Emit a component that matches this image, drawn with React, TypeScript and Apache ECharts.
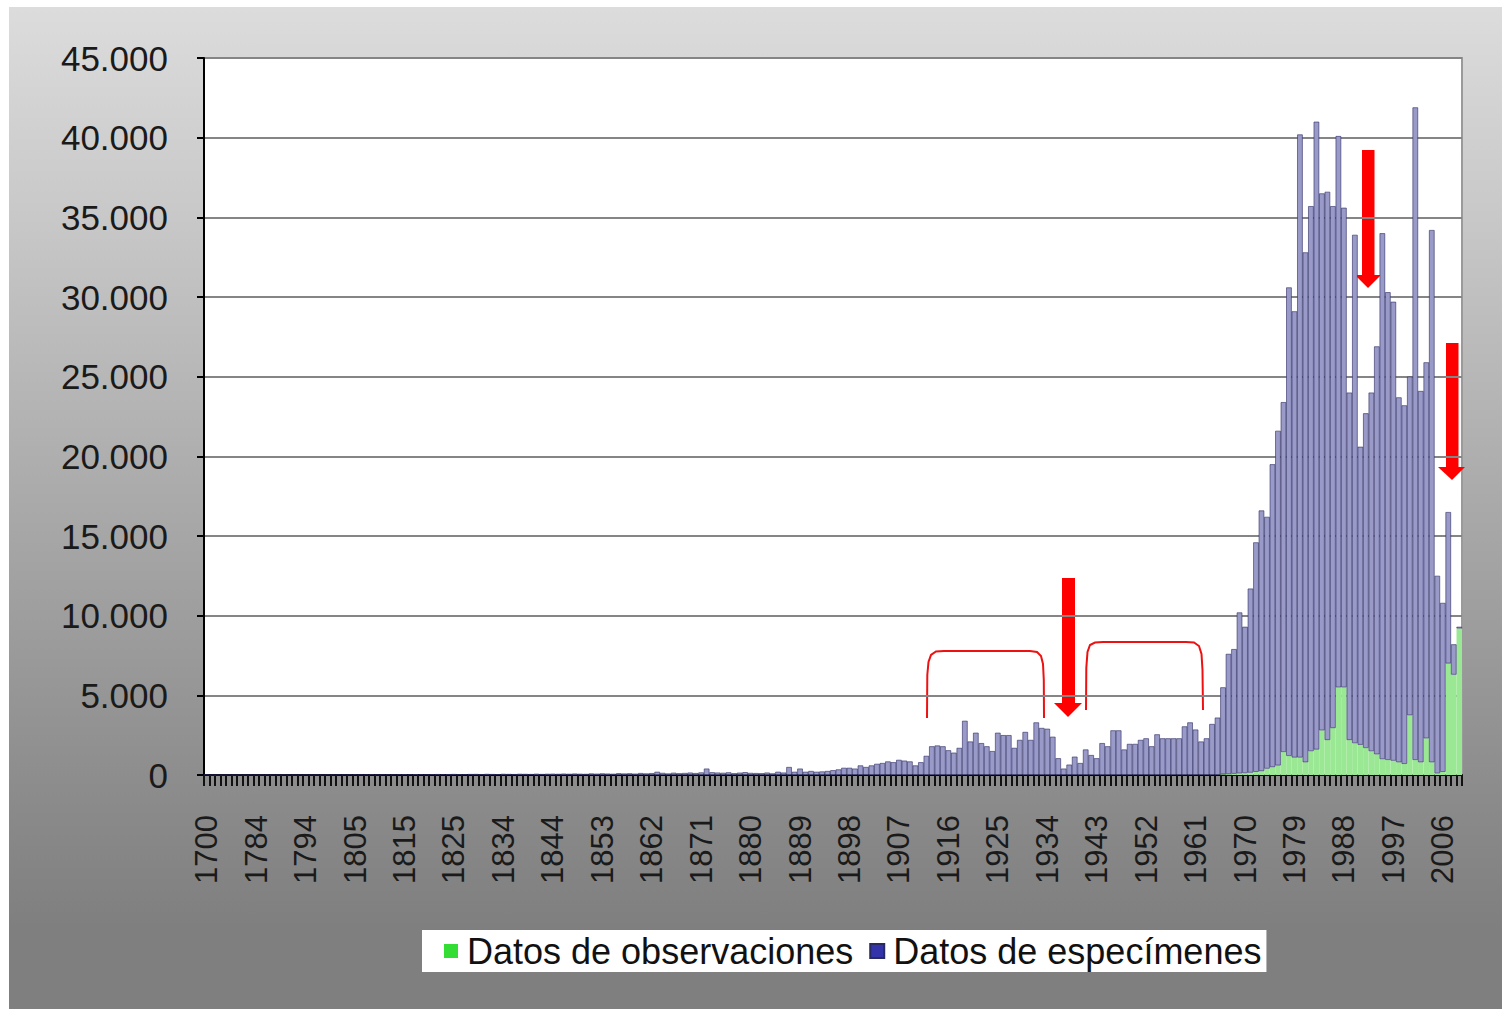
import React, { useEffect, useRef } from "react";
import * as echarts from "echarts";

const years = [
  1700, 1735, 1748, 1753, 1758, 1763, 1768, 1772, 1778,
  1784, 1785, 1786, 1787, 1788, 1789, 1790, 1792, 1793,
  1794, 1795, 1796, 1798, 1799, 1800, 1802, 1803, 1804,
  1805, 1806, 1807, 1808, 1809, 1811, 1812, 1813, 1814,
  1815, 1816, 1817, 1818, 1819, 1821, 1822, 1823, 1824,
  1825, 1826, 1827, 1828, 1829, 1830, 1831, 1832, 1833,
  1834, 1835, 1836, 1837, 1838, 1840, 1841, 1842, 1843,
  1844, 1845, 1846, 1847, 1848, 1849, 1850, 1851, 1852,
  1853, 1854, 1855, 1856, 1857, 1858, 1859, 1860, 1861,
  1862, 1863, 1864, 1865, 1866, 1867, 1868, 1869, 1870,
  1871, 1872, 1873, 1874, 1875, 1876, 1877, 1878, 1879,
  1880, 1881, 1882, 1883, 1884, 1885, 1886, 1887, 1888,
  1889, 1890, 1891, 1892, 1893, 1894, 1895, 1896, 1897,
  1898, 1899, 1900, 1901, 1902, 1903, 1904, 1905, 1906,
  1907, 1908, 1909, 1910, 1911, 1912, 1913, 1914, 1915,
  1916, 1917, 1918, 1919, 1920, 1921, 1922, 1923, 1924,
  1925, 1926, 1927, 1928, 1929, 1930, 1931, 1932, 1933,
  1934, 1935, 1936, 1937, 1938, 1939, 1940, 1941, 1942,
  1943, 1944, 1945, 1946, 1947, 1948, 1949, 1950, 1951,
  1952, 1953, 1954, 1955, 1956, 1957, 1958, 1959, 1960,
  1961, 1962, 1963, 1964, 1965, 1966, 1967, 1968, 1969,
  1970, 1971, 1972, 1973, 1974, 1975, 1976, 1977, 1978,
  1979, 1980, 1981, 1982, 1983, 1984, 1985, 1986, 1987,
  1988, 1989, 1990, 1991, 1992, 1993, 1994, 1995, 1996,
  1997, 1998, 1999, 2000, 2001, 2002, 2003, 2004, 2005,
  2006, 2007, 2008, 2009,
];

const observaciones = [
  0, 0, 0, 0, 0, 0, 0, 0, 0,
  0, 0, 0, 0, 0, 0, 0, 0, 0,
  0, 0, 0, 0, 0, 0, 0, 0, 0,
  0, 0, 0, 0, 0, 0, 0, 0, 0,
  0, 0, 0, 0, 0, 0, 0, 0, 0,
  0, 0, 0, 0, 0, 0, 0, 0, 0,
  0, 0, 0, 0, 0, 0, 0, 0, 0,
  0, 0, 0, 0, 0, 0, 0, 0, 0,
  0, 0, 0, 0, 0, 0, 0, 0, 0,
  0, 0, 0, 0, 0, 0, 0, 0, 0,
  0, 0, 0, 0, 0, 0, 0, 0, 0,
  0, 0, 0, 0, 0, 0, 0, 0, 0,
  0, 0, 0, 0, 0, 0, 0, 0, 0,
  0, 0, 0, 0, 0, 0, 0, 0, 0,
  0, 0, 0, 0, 0, 0, 0, 0, 0,
  0, 0, 0, 0, 0, 0, 0, 0, 0,
  0, 0, 0, 0, 0, 0, 0, 0, 0,
  0, 0, 0, 0, 0, 0, 0, 0, 0,
  0, 0, 0, 0, 0, 0, 0, 0, 0,
  0, 0, 0, 0, 0, 0, 0, 0, 0,
  0, 0, 0, 0, 0, 50, 60, 80, 100,
  120, 150, 200, 250, 400, 500, 600, 1450, 1200,
  1100, 1100, 800, 1500, 1600, 2800, 2200, 2950, 5500,
  5500, 2200, 2000, 1900, 1700, 1500, 1300, 1000, 950,
  900, 800, 700, 3750, 950, 800, 2300, 800, 100,
  200, 7000, 6300, 9200,
];

const especimenes = [
  30, 5, 3, 8, 10, 6, 12, 9, 15,
  20, 12, 18, 10, 14, 22, 16, 11, 19,
  25, 17, 21, 14, 28, 19, 24, 30, 22,
  35, 27, 31, 40, 26, 33, 38, 29, 42,
  45, 36, 50, 41, 33, 47, 55, 39, 52,
  60, 48, 44, 58, 62, 51, 67, 57, 49,
  70, 63, 55, 72, 66, 59, 78, 61, 74,
  80, 69, 85, 73, 90, 77, 68, 95, 82,
  100, 88, 76, 110, 93, 105, 84, 120, 98,
  115, 200, 130, 95, 140, 108, 125, 150, 118,
  160, 400, 170, 150, 135, 165, 110, 145, 175,
  130, 120, 110, 150, 100, 200, 150, 500, 200,
  400, 200, 250, 200, 220, 250, 300, 350, 450,
  450, 400, 600, 500, 600, 700, 750, 850, 800,
  950, 900, 850, 600, 800, 1200, 1800, 1850, 1800,
  1550, 1400, 1700, 3400, 2100, 2650, 2000, 1800, 1500,
  2650, 2500, 2500, 1700, 2200, 2700, 2200, 3300, 2950,
  2900, 2400, 1050, 400, 650, 1150, 750, 1600, 1250,
  1050, 2000, 1800, 2800, 2800, 1600, 1950, 1950, 2200,
  2300, 1800, 2550, 2300, 2300, 2300, 2300, 3050, 3300,
  2850, 2100, 2300, 3200, 3600, 5450, 7540, 7820, 10100,
  9180, 11550, 14400, 16350, 15800, 19000, 21000, 21950, 29400,
  28000, 39100, 32000, 34200, 39400, 33700, 34400, 32750, 34600,
  30100, 21800, 31900, 18700, 21000, 22500, 25600, 33000, 29350,
  28800, 22900, 22500, 21250, 40950, 23300, 23600, 33400, 12400,
  10600, 9500, 1900, 100,
];

const seriesNames = ["Datos de observaciones", "Datos de especímenes"];
const legendColors = ["#33dd33", "#3333aa"];

const FONT = "'Liberation Sans', Arial, sans-serif";

export default function App() {
  const ref = useRef<HTMLDivElement>(null);

  useEffect(() => {
    const chart = echarts.init(ref.current!, null, { renderer: "svg" });
    const red = "#ff0000";
    chart.setOption({
      animation: false,
      backgroundColor: "transparent",
      grid: {
        left: 204,
        top: 58,
        right: 50,
        bottom: 234,
        show: true,
        backgroundColor: "#ffffff",
        borderColor: "#9a9a9a",
        borderWidth: 2,
      },
      legend: {
        left: 422,
        top: 930,
        backgroundColor: "#ffffff",
        padding: [3, 5, 3, 22],
        itemGap: 16,
        itemWidth: 14,
        itemHeight: 14,
        icon: "rect",
        textStyle: {
          fontSize: 36,
          lineHeight: 36,
          fontFamily: FONT,
          color: "#111",
          padding: [0, 0, 0, 4],
        },
        data: seriesNames.map((n, i) => ({ name: n, itemStyle: { color: legendColors[i] } })),
      },
      xAxis: {
        type: "category",
        data: years.map(String),
        boundaryGap: true,
        axisLine: { lineStyle: { color: "#000", width: 2 } },
        axisTick: { show: true, interval: 0, length: 11, lineStyle: { color: "#111", width: 2 } },
        axisLabel: {
          interval: 8,
          rotate: 90,
          margin: 40,
          fontSize: 31,
          fontFamily: FONT,
          color: "#1a1a1a",
        },
        splitLine: { show: false },
      },
      yAxis: {
        type: "value",
        min: 0,
        max: 45000,
        interval: 5000,
        axisLine: { show: true, lineStyle: { color: "#000", width: 2 } },
        axisTick: { show: true, length: 7, lineStyle: { color: "#000", width: 2 } },
        axisLabel: {
          margin: 36,
          fontSize: 35,
          fontFamily: FONT,
          color: "#1a1a1a",
          formatter: (v: number) => (v === 0 ? "0" : `${v / 1000}.000`),
        },
        splitLine: { lineStyle: { color: "#858585", width: 2 } },
      },
      series: [
        {
          name: seriesNames[0],
          type: "bar",
          stack: "total",
          data: observaciones,
          barCategoryGap: "0%",
          itemStyle: { color: "#9be894" },
        },
        {
          name: seriesNames[1],
          type: "bar",
          stack: "total",
          data: especimenes,
          barCategoryGap: "0%",
          itemStyle: { color: "#9a9ac8", borderColor: "#2a2a62", borderWidth: 0.6 },
        },
      ],
      graphic: [
        {
          type: "polyline",
          shape: {
            points: [
              [927, 718], [927.3, 675], [928.5, 662], [931, 655], [936, 651.5], [944, 651],
              [1030, 651], [1037, 652], [1041, 656], [1043, 664], [1043.8, 680], [1044, 718],
            ],
          },
          style: { stroke: "#ee1111", lineWidth: 2, fill: null },
        },
        {
          type: "polyline",
          shape: {
            points: [
              [1086, 710], [1086.3, 668], [1087.5, 652], [1090, 645], [1095, 642.5], [1103, 642],
              [1186, 642], [1194, 642.5], [1199, 646], [1201.5, 654], [1202.5, 670], [1203, 710],
            ],
          },
          style: { stroke: "#ee1111", lineWidth: 2, fill: null },
        },
        { type: "rect", shape: { x: 1062, y: 578, width: 13, height: 125 }, style: { fill: red } },
        { type: "polygon", shape: { points: [[1054, 703], [1082, 703], [1068, 717]] }, style: { fill: red } },
        { type: "rect", shape: { x: 1362, y: 150, width: 12.5, height: 125 }, style: { fill: red } },
        { type: "polygon", shape: { points: [[1355, 275], [1381, 275], [1368, 288]] }, style: { fill: red } },
        { type: "rect", shape: { x: 1446, y: 343, width: 12.5, height: 124 }, style: { fill: red } },
        { type: "polygon", shape: { points: [[1438, 467], [1465, 467], [1452, 480]] }, style: { fill: red } },
      ],
    });
    return () => chart.dispose();
  }, []);

  return (
    <div
      style={{
        position: "absolute",
        left: 0,
        top: 0,
        width: 1512,
        height: 1009,
        background: "#ffffff",
        overflow: "hidden",
      }}
    >
      <div
        style={{
          position: "absolute",
          left: 9,
          top: 7,
          width: 1493,
          height: 1002,
          background:
            "linear-gradient(to bottom, #dcdcdc 0%, #c9c9c9 20%, #a9a9a9 50%, #8a8a8a 80%, #7f7f7f 92%, #7f7f7f 100%)",
        }}
      />
      <div ref={ref} style={{ position: "absolute", left: 0, top: 0, width: 1512, height: 1009 }} />
    </div>
  );
}
